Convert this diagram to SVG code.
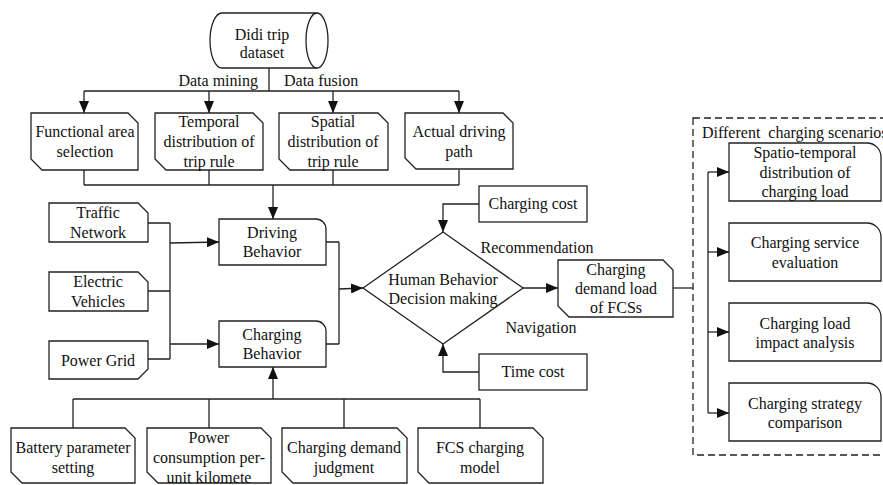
<svg xmlns="http://www.w3.org/2000/svg" width="883" height="485" viewBox="0 0 883 485">
<style>
.s{fill:#fff;stroke:#222;stroke-width:1.3}
.l{fill:none;stroke:#222;stroke-width:1.3}
.a{fill:none;stroke:#222;stroke-width:1.3;marker-end:url(#ah)}
text{font-family:"Liberation Serif","Times New Roman",serif;font-size:16px;fill:#111;text-anchor:middle}
.st{text-anchor:start;white-space:pre}
</style>
<defs>
<marker id="ah" markerUnits="userSpaceOnUse" markerWidth="12" markerHeight="10" refX="12" refY="5" orient="auto">
<path d="M0,0 L12,5 L0,10 Z" fill="#111"/>
</marker>
</defs>
<g id="connectors">
<path class="l" d="M269,68 V91 M84,91 H459"/>
<path class="a" d="M84,91 V113"/>
<path class="a" d="M209,91 V113"/>
<path class="a" d="M333,91 V113"/>
<path class="a" d="M459,91 V113"/>
<path class="l" d="M84,170 V185 M209,170 V185 M333,170 V185 M459,170 V185 M84,185 H459"/>
<path class="a" d="M273,185 V219"/>
<path class="l" d="M148,223 H170 M148,291 H170 M148,359 H170 M170,223 V359"/>
<path class="a" d="M170,243 L219,242"/>
<path class="a" d="M170,344 H219"/>
<path class="l" d="M326,242 H339 M326,344 H339 M339,242 V344"/>
<path class="a" d="M339,289 L363,288"/>
<path class="a" d="M479,204 H443 V232"/>
<path class="a" d="M479,372 H443 V344"/>
<path class="a" d="M523,288 H558"/>
<path class="l" d="M673,288 H693"/>
<path class="l" d="M708,172 V413"/>
<path class="a" d="M708,172 H729"/>
<path class="a" d="M708,252 H729"/>
<path class="a" d="M708,332 H729"/>
<path class="a" d="M708,413 H729"/>
<path class="l" d="M73,428 V399 M209,428 V399 M344,428 V399 M480,428 V399 M73,399 H480"/>
<path class="a" d="M273,399 V367"/>
</g>
<g id="didi">
<path class="s" d="M317,13 H222 A12,27.5 0 0 0 222,68 H317"/>
<ellipse class="s" cx="317" cy="40.5" rx="11" ry="27.5"/>
<text x="262" y="40">Didi trip</text>
<text x="262" y="58">dataset</text>
</g>
<text x="258" y="86" style="text-anchor:end">Data mining</text>
<text x="284" y="86" class="st">Data fusion</text>
<g id="functional">
<path class="s" d="M31,113 H128 L138,123 V170 H42 L31,159 Z"/>
<text x="85" y="137">Functional area</text>
<text x="85" y="157">selection</text>
</g>
<g id="temporal">
<path class="s" d="M155,113 H253 L263,123 V170 H166 L155,159 Z"/>
<text x="209" y="127">Temporal</text>
<text x="209" y="147">distribution of</text>
<text x="209" y="167">trip rule</text>
</g>
<g id="spatial">
<path class="s" d="M279,113 H378 L388,123 V170 H290 L279,159 Z"/>
<text x="333" y="127">Spatial</text>
<text x="333" y="147">distribution of</text>
<text x="333" y="167">trip rule</text>
</g>
<g id="actual">
<path class="s" d="M405,113 H503 L513,123 V169 H416 L405,158 Z"/>
<text x="459" y="137">Actual driving</text>
<text x="459" y="157">path</text>
</g>
<g id="traffic">
<path class="s" d="M49,203 H138 L148,213 V242 H49 Z"/>
<text x="98" y="218">Traffic</text>
<text x="98" y="238">Network</text>
</g>
<g id="ev">
<path class="s" d="M49,272 H138 L148,282 V311 H49 Z"/>
<text x="98" y="287">Electric</text>
<text x="98" y="307">Vehicles</text>
</g>
<g id="grid">
<path class="s" d="M49,341 H148 V369 L138,379 H49 Z"/>
<text x="98" y="366">Power Grid</text>
</g>
<g id="driving">
<path class="s" d="M219,219 H316 A10,10 0 0 1 326,229 V265 H219 Z"/>
<text x="272" y="238">Driving</text>
<text x="272" y="257">Behavior</text>
</g>
<g id="charging">
<path class="s" d="M219,321 H316 A10,10 0 0 1 326,331 V367 H219 Z"/>
<text x="272" y="340">Charging</text>
<text x="272" y="359">Behavior</text>
</g>
<g id="decision">
<path class="s" d="M363,288 L443,232 L523,288 L443,344 Z"/>
<text x="443" y="285">Human Behavior</text>
<text x="443" y="304">Decision making</text>
</g>
<g id="chargingcost">
<rect class="s" x="479" y="186" width="108" height="36"/>
<text x="533" y="209">Charging cost</text>
</g>
<g id="timecost">
<rect class="s" x="479" y="354" width="108" height="36"/>
<text x="533" y="377">Time cost</text>
</g>
<text x="537" y="253">Recommendation</text>
<text x="541" y="333">Navigation</text>
<g id="demand">
<path class="s" d="M558,260 H663 L673,270 V317 H569 L558,306 Z"/>
<text x="616" y="275">Charging</text>
<text x="616" y="294">demand load</text>
<text x="616" y="313">of FCSs</text>
</g>
<g id="scenarios">
<rect x="693" y="118" width="200" height="337" fill="none" stroke="#222" stroke-width="1.3" stroke-dasharray="7,4"/>
<text x="702" y="138" class="st">Different  charging scenarios</text>
</g>
<g id="spatiotemporal">
<path class="s" d="M729,143 H867 A14,14 0 0 1 881,157 V201 H729 Z"/>
<text x="805" y="158">Spatio-temporal</text>
<text x="805" y="178">distribution of</text>
<text x="805" y="197">charging load</text>
</g>
<g id="service">
<path class="s" d="M729,223 H867 A14,14 0 0 1 881,237 V281 H729 Z"/>
<text x="805" y="248">Charging service</text>
<text x="805" y="268">evaluation</text>
</g>
<g id="impact">
<path class="s" d="M729,303 H867 A14,14 0 0 1 881,317 V361 H729 Z"/>
<text x="805" y="329">Charging load</text>
<text x="805" y="348">impact analysis</text>
</g>
<g id="strategy">
<path class="s" d="M729,383 H867 A14,14 0 0 1 881,397 V441 H729 Z"/>
<text x="805" y="409">Charging strategy</text>
<text x="805" y="428">comparison</text>
</g>
<g id="battery">
<path class="s" d="M11,428 H125 L135,438 V483 H22 L11,472 Z"/>
<text x="73" y="453">Battery parameter</text>
<text x="73" y="473">setting</text>
</g>
<g id="power">
<path class="s" d="M147,428 H261 L271,438 V483 H158 L147,472 Z"/>
<text x="209" y="443">Power</text>
<text x="209" y="463">consumption per-</text>
<text x="209" y="483">unit kilomete</text>
</g>
<g id="judgment">
<path class="s" d="M282,428 H397 L407,438 V483 H293 L282,472 Z"/>
<text x="344" y="453">Charging demand</text>
<text x="344" y="473">judgment</text>
</g>
<g id="fcs">
<path class="s" d="M418,428 H533 L543,438 V483 H429 L418,472 Z"/>
<text x="480" y="453">FCS charging</text>
<text x="480" y="473">model</text>
</g>
</svg>
